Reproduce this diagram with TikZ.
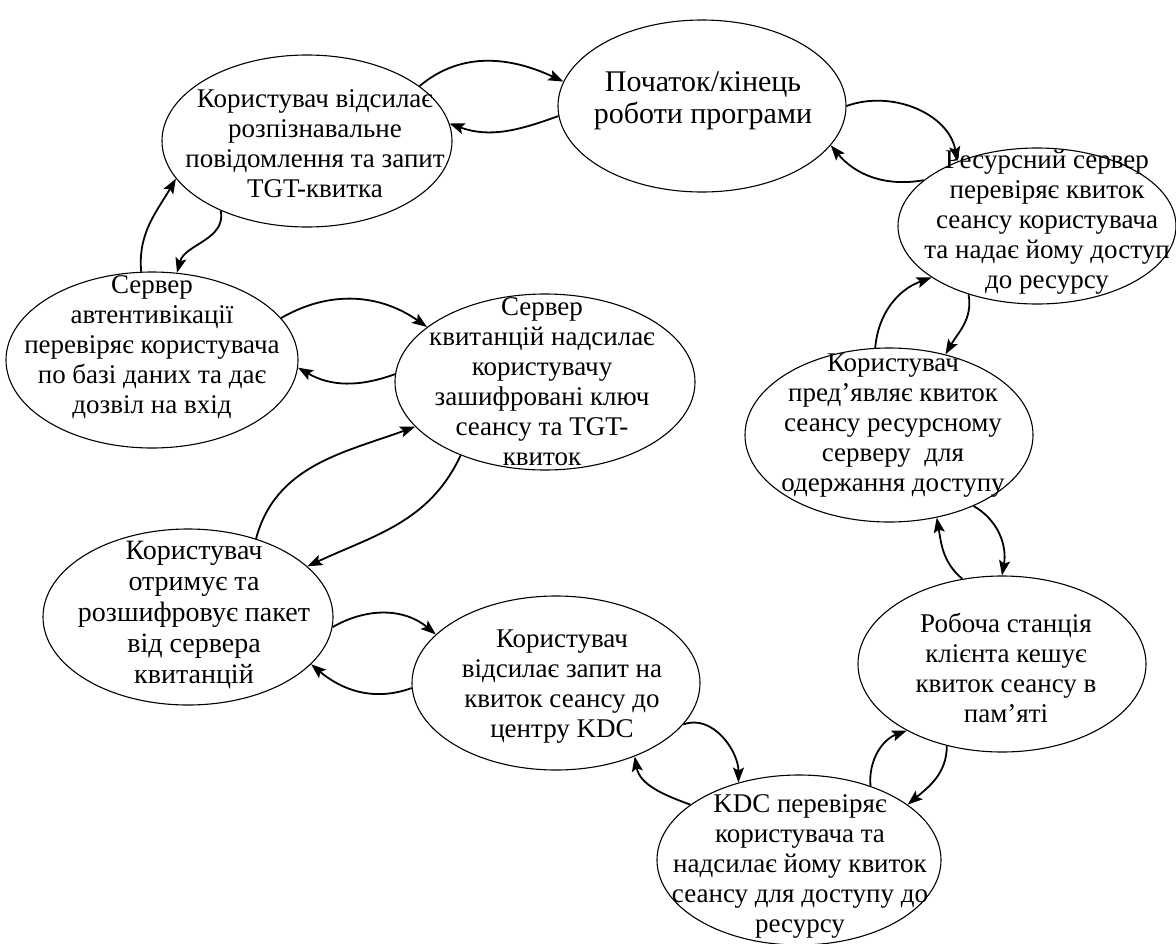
\documentclass[tikz,border=0pt]{standalone}
\usepackage{fontspec}
\setmainfont{Liberation Serif}
\usetikzlibrary{shapes.geometric,arrows.meta}
\begin{document}
\begin{tikzpicture}[x=1pt,y=1pt,
  st/.style={draw, ellipse, line width=1.1pt, inner sep=0pt},
  lbl/.style={align=center, font=\fontsize{27}{30}\selectfont, inner sep=0pt},
  arr/.style={-{Stealth[length=15pt,width=11pt,inset=3pt]}, line width=1.8pt}]
\useasboundingbox (0,0) rectangle (1176,-943);

% ellipses
\node[st, minimum width=290pt, minimum height=172pt] (e1)  at (307,-141) {};
\node[st, minimum width=288pt, minimum height=172pt] (e2)  at (702,-106) {};
\node[st, minimum width=278pt, minimum height=156pt] (e3)  at (1037,-226) {};
\node[st, minimum width=288pt, minimum height=174pt] (e10) at (889,-435) {};
\node[st, minimum width=288pt, minimum height=176pt] (e9)  at (1002,-664) {};
\node[st, minimum width=284pt, minimum height=170pt] (e8)  at (799,-860) {};
\node[st, minimum width=288pt, minimum height=174pt] (e7)  at (556,-683) {};
\node[st, minimum width=290pt, minimum height=176pt] (e6)  at (188,-617) {};
\node[st, minimum width=300pt, minimum height=176pt] (e5)  at (545,-382) {};
\node[st, minimum width=292pt, minimum height=176pt] (e4)  at (152,-360) {};

% texts
\node[lbl] (t1)  at (315,-144) {Користувач відсилає\\розпізнавальне\\повідомлення та запит\\TGT-квитка};
\node[lbl, font=\fontsize{30}{32}\selectfont] (t2)  at (703,-101) {Початок/кінець\\роботи програми};
\node[lbl] (t3)  at (1047,-222) {Ресурсний сервер\\перевіряє квиток\\сеансу користувача\\та надає йому доступ\\до ресурсу};
\node[lbl] (t10) at (893,-426) {Користувач\\пред'являє квиток\\сеансу ресурсному\\серверу \ для\\одержання доступу};
\node[lbl] (t9)  at (1006,-668) {Робоча станція\\клієнта кешує\\квиток сеансу в\\пам'яті};
\node[lbl] (t8)  at (800,-866) {KDC перевіряє\\користувача та\\надсилає йому квиток\\сеансу для доступу до\\ресурсу};
\node[lbl] (t7)  at (562,-687) {Користувач\\відсилає запит на\\квиток сеансу до\\центру KDC};
\node[lbl, font=\fontsize{28}{31}\selectfont] (t6)  at (194,-615) {Користувач\\отримує та\\розшифровує пакет\\від сервера\\квитанцій};
\node[lbl] (t5)  at (542,-382) {Сервер\\квитанцій надсилає\\користувачу\\зашифровані ключ\\сеансу та TGT-\\квиток};
\node[lbl] (t4)  at (152,-347) {Сервер\\автентивікації\\перевіряє користувача\\по базі даних та дає\\дозвіл на вхід};

% connectors
\draw[arr] (e1.26)  to[out=40,in=155]  (e2.170);
\draw[arr] (e2.184) to[out=200,in=-20] (e1.7);
\draw[arr] (e2.0)   to[out=20,in=100]  (e3.141);
\draw[arr] (e3.158) to[out=190,in=-50] (e2.-17);
\draw[arr] (e10.99) to[out=85,in=200]  (e3.206);
\draw[arr] (e3.225) to[out=-80,in=60]  (e10.55);
\draw[arr] (e10.-40) to[out=-30,in=80] (e9.90);
\draw[arr] (e9.115) to[out=140,in=-80] (e10.-60);
\draw[arr] (e9.236) to[out=-90,in=40]  (e8.27);
\draw[arr] (e8.46)  to[out=95,in=200]  (e9.215);
\draw[arr] (e7.-18) to[out=20,in=90]   (e8.128);
\draw[arr] (e8.153) to[out=160,in=-80] (e7.-43);
\draw[arr] (e6.-4)  to[out=30,in=140]  (e7.158);
\draw[arr] (e7.182) to[out=200,in=-40] (e6.-21);
\draw[arr] (e6.49)  to[out=75,in=200]  (e5.199);
\draw[arr] (e5.221) to[out=245,in=25]  (e6.23);
\draw[arr] (e4.18)  to[out=30,in=145]  (e5.155);
\draw[arr] (e5.177) to[out=200,in=-30] (e4.-3);
\draw[arr] (e4.97)  to[out=95,in=240]  (e1.196);
\draw[arr] (e1.219) to[out=-80,in=75]  (e4.74);
\end{tikzpicture}
\end{document}
